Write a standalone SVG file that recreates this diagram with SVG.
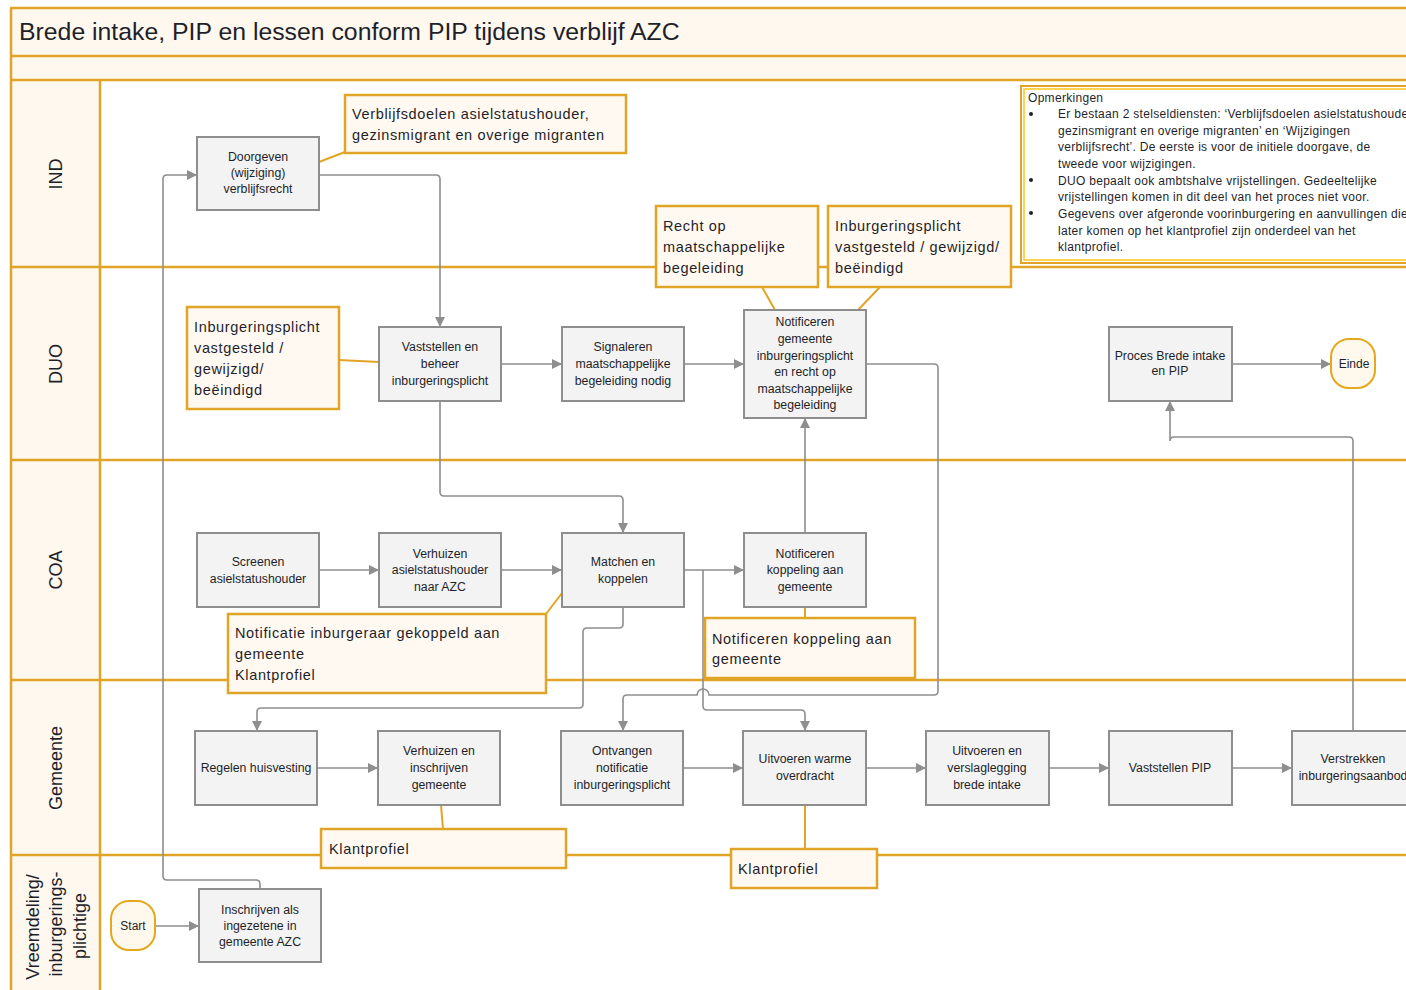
<svg xmlns="http://www.w3.org/2000/svg" width="1406" height="990" viewBox="0 0 1406 990">
<defs>
<style>
.band{fill:#FEF8EF;stroke:none}
.gl{stroke:#E0A526;stroke-width:2.5;fill:none}
.as{stroke:#E0A526;stroke-width:2;fill:none}
.node rect{fill:#F3F3F3;stroke:#8E8E8E;stroke-width:2}
.node text{font-family:"Liberation Sans",Arial,sans-serif;font-size:12.3px;fill:#1F1F2A;text-anchor:middle}
.term rect{fill:#FFF8EC;stroke:#E3A81C;stroke-width:2}
.term text{font-family:"Liberation Sans",Arial,sans-serif;font-size:12px;fill:#1F1F2A;text-anchor:middle}
.callout rect{fill:#FFF9F1;stroke:#E0A526;stroke-width:2.5}
.callout text{font-family:"Liberation Sans",Arial,sans-serif;font-size:14.5px;fill:#1F1F2A;letter-spacing:0.65px}
.lane text{font-family:"Liberation Sans",Arial,sans-serif;font-size:18px;fill:#1F1F2A;text-anchor:middle}
.conn path{fill:none;stroke:#8E8E8E;stroke-width:1.6}
.note text{font-family:"Liberation Sans",Arial,sans-serif;font-size:12px;letter-spacing:0.3px;fill:#1F1F2A}
</style>
<marker id="ah" markerUnits="userSpaceOnUse" markerWidth="12" markerHeight="12" refX="10" refY="5" orient="auto">
<path d="M0,0 L10,5 L0,10 z" fill="#8E8E8E"/>
</marker>
</defs>
<rect width="1406" height="990" fill="#FFFFFF"/>
<g id="frame">
<rect class="band" x="10" y="8" width="1396" height="72"/>
<rect class="band" x="10" y="80" width="90" height="910"/>
<line class="gl" x1="10" y1="8" x2="1406" y2="8"/>
<line class="gl" x1="10" y1="56" x2="1406" y2="56"/>
<line class="gl" x1="10" y1="80" x2="1406" y2="80"/>
<line class="gl" x1="10" y1="267" x2="1406" y2="267"/>
<line class="gl" x1="10" y1="460" x2="1406" y2="460"/>
<line class="gl" x1="10" y1="680" x2="1406" y2="680"/>
<line class="gl" x1="10" y1="855" x2="1406" y2="855"/>
<line class="gl" x1="11" y1="8" x2="11" y2="990"/>
<line class="gl" x1="100" y1="80" x2="100" y2="990"/>
<text x="19" y="40" font-family="'Liberation Sans',Arial,sans-serif" font-size="24.8" fill="#1F1F2A">Brede intake, PIP en lessen conform PIP tijdens verblijf AZC</text>
</g>
<g id="lanes" class="lane">
<text transform="translate(62,174) rotate(-90)">IND</text>
<text transform="translate(62,364) rotate(-90)">DUO</text>
<text transform="translate(62,570) rotate(-90)">COA</text>
<text transform="translate(62,768) rotate(-90)">Gemeente</text>
<text transform="translate(39,927) rotate(-90)">Vreemdeling/</text>
<text transform="translate(62,924) rotate(-90)">inburgerings-</text>
<text transform="translate(86,926) rotate(-90)">plichtige</text>
</g>
<g id="associations">
<line class="as" x1="345" y1="152" x2="319" y2="162"/>
<line class="as" x1="339" y1="360" x2="379" y2="362"/>
<line class="as" x1="762" y1="287" x2="775" y2="310"/>
<line class="as" x1="880" y1="287" x2="858" y2="310"/>
<line class="as" x1="546" y1="614" x2="562" y2="593"/>
<line class="as" x1="805" y1="607" x2="805" y2="618"/>
<line class="as" x1="441" y1="805" x2="443" y2="829"/>
<line class="as" x1="805" y1="805" x2="805" y2="849"/>
</g>
<g id="connectors" class="conn">
<path d="M260,889 V884 Q260,880 256,880 H167 Q163,880 163,876 V179 Q163,175 167,175 H197" marker-end="url(#ah)"/>
<path d="M319,175 H436 Q440,175 440,179 V327" marker-end="url(#ah)"/>
<path d="M501,364 H562" marker-end="url(#ah)"/>
<path d="M684,364 H744" marker-end="url(#ah)"/>
<path d="M440,401 V492 Q440,496 444,496 H619 Q623,496 623,500 V533" marker-end="url(#ah)"/>
<path d="M1232,364 H1331" marker-end="url(#ah)"/>
<path d="M319,570 H379" marker-end="url(#ah)"/>
<path d="M501,570 H562" marker-end="url(#ah)"/>
<path d="M684,570 H744" marker-end="url(#ah)"/>
<path d="M805,533 V418" marker-end="url(#ah)"/>
<path d="M866,364 H934 Q938,364 938,368 V691 Q938,695 934,695 H709 A6,6 0 0 0 697,695 H627 Q623,695 623,699 V731" marker-end="url(#ah)"/>
<path d="M703,570 V706 Q703,710 707,710 H801 Q805,710 805,714 V731" marker-end="url(#ah)"/>
<path d="M623,607 V624 Q623,628 619,628 H587 Q583,628 583,632 V704 Q583,708 579,708 H261 Q257,708 257,712 V731" marker-end="url(#ah)"/>
<path d="M317,768 H378" marker-end="url(#ah)"/>
<path d="M683,768 H743" marker-end="url(#ah)"/>
<path d="M866,768 H926" marker-end="url(#ah)"/>
<path d="M1049,768 H1109" marker-end="url(#ah)"/>
<path d="M1232,768 H1292" marker-end="url(#ah)"/>
<path d="M1353,731 V441 Q1353,437 1349,437 H1174 Q1170,437 1170,441 V401" marker-end="url(#ah)"/>
<path d="M155,926 H199" marker-end="url(#ah)"/>
</g>
<g id="c-verblijfsdoelen" class="callout">
<rect x="345" y="95" width="281" height="58"/>
<text x="352" y="119">Verblijfsdoelen asielstatushouder,</text>
<text x="352" y="140">gezinsmigrant en overige migranten</text>
</g>
<g id="c-recht" class="callout">
<rect x="656" y="206" width="162" height="81"/>
<text x="663" y="231">Recht op</text>
<text x="663" y="252">maatschappelijke</text>
<text x="663" y="273">begeleiding</text>
</g>
<g id="c-inburg-duo-top" class="callout">
<rect x="828" y="206" width="183" height="81"/>
<text x="835" y="231">Inburgeringsplicht</text>
<text x="835" y="252">vastgesteld / gewijzigd/</text>
<text x="835" y="273">beëindigd</text>
</g>
<g id="c-inburg-duo-left" class="callout">
<rect x="187" y="307" width="152" height="102"/>
<text x="194" y="332">Inburgeringsplicht</text>
<text x="194" y="353">vastgesteld /</text>
<text x="194" y="374">gewijzigd/</text>
<text x="194" y="395">beëindigd</text>
</g>
<g id="c-notificatie" class="callout">
<rect x="228" y="614" width="318" height="79"/>
<text x="235" y="638">Notificatie inburgeraar gekoppeld aan</text>
<text x="235" y="659">gemeente</text>
<text x="235" y="680">Klantprofiel</text>
</g>
<g id="c-notif-koppeling" class="callout">
<rect x="705" y="618" width="210" height="60"/>
<text x="712" y="644">Notificeren koppeling aan</text>
<text x="712" y="664">gemeente</text>
</g>
<g id="c-klantprofiel1" class="callout">
<rect x="321" y="829" width="245" height="39"/>
<text x="329" y="854">Klantprofiel</text>
</g>
<g id="c-klantprofiel2" class="callout">
<rect x="731" y="849" width="146" height="39"/>
<text x="738" y="874">Klantprofiel</text>
</g>
<g id="opmerkingen" class="note">
<rect x="1021" y="86" width="400" height="177" fill="#FFFFFF" stroke="#E0A526" stroke-width="2"/>
<rect x="1024" y="89" width="400" height="171" fill="none" stroke="#FFC61A" stroke-width="1.5"/>
<text x="1028" y="102">Opmerkingen</text>
<circle cx="1031" cy="114" r="2" fill="#1F1F2A"/>
<text x="1058" y="118">Er bestaan 2 stelseldiensten: ‘Verblijfsdoelen asielstatushouder,</text>
<text x="1058" y="135">gezinsmigrant en overige migranten’ en ‘Wijzigingen</text>
<text x="1058" y="151">verblijfsrecht’. De eerste is voor de initiele doorgave, de</text>
<text x="1058" y="168">tweede voor wijzigingen.</text>
<circle cx="1031" cy="180" r="2" fill="#1F1F2A"/>
<text x="1058" y="185">DUO bepaalt ook ambtshalve vrijstellingen. Gedeeltelijke</text>
<text x="1058" y="201">vrijstellingen komen in dit deel van het proces niet voor.</text>
<circle cx="1031" cy="213" r="2" fill="#1F1F2A"/>
<text x="1058" y="218">Gegevens over afgeronde voorinburgering en aanvullingen die</text>
<text x="1058" y="235">later komen op het klantprofiel zijn onderdeel van het</text>
<text x="1058" y="251">klantprofiel.</text>
</g>
<g id="n-doorgeven" class="node">
<rect x="197" y="137" width="122" height="73"/>
<text x="258" y="161">Doorgeven</text>
<text x="258" y="177">(wijziging)</text>
<text x="258" y="193">verblijfsrecht</text>
</g>
<g id="n-vaststellen" class="node">
<rect x="379" y="327" width="122" height="74"/>
<text x="440" y="351">Vaststellen en</text>
<text x="440" y="368">beheer</text>
<text x="440" y="385">inburgeringsplicht</text>
</g>
<g id="n-signaleren" class="node">
<rect x="562" y="327" width="122" height="74"/>
<text x="623" y="351">Signaleren</text>
<text x="623" y="368">maatschappelijke</text>
<text x="623" y="385">begeleiding nodig</text>
</g>
<g id="n-notif-gemeente" class="node">
<rect x="744" y="310" width="122" height="108"/>
<text x="805" y="326">Notificeren</text>
<text x="805" y="343">gemeente</text>
<text x="805" y="360">inburgeringsplicht</text>
<text x="805" y="376">en recht op</text>
<text x="805" y="393">maatschappelijke</text>
<text x="805" y="409">begeleiding</text>
</g>
<g id="n-proces" class="node">
<rect x="1109" y="327" width="123" height="74"/>
<text x="1170" y="360">Proces Brede intake</text>
<text x="1170" y="375">en PIP</text>
</g>
<g id="n-einde" class="term">
<rect x="1331" y="339" width="44" height="49" rx="18" ry="18"/>
<text x="1354" y="368">Einde</text>
</g>
<g id="n-screenen" class="node">
<rect x="197" y="533" width="122" height="74"/>
<text x="258" y="566">Screenen</text>
<text x="258" y="583">asielstatushouder</text>
</g>
<g id="n-verhuizen-azc" class="node">
<rect x="379" y="533" width="122" height="74"/>
<text x="440" y="558">Verhuizen</text>
<text x="440" y="574">asielstatushouder</text>
<text x="440" y="591">naar AZC</text>
</g>
<g id="n-matchen" class="node">
<rect x="562" y="533" width="122" height="74"/>
<text x="623" y="566">Matchen en</text>
<text x="623" y="583">koppelen</text>
</g>
<g id="n-notif-koppeling" class="node">
<rect x="744" y="533" width="122" height="74"/>
<text x="805" y="558">Notificeren</text>
<text x="805" y="574">koppeling aan</text>
<text x="805" y="591">gemeente</text>
</g>
<g id="n-regelen" class="node">
<rect x="195" y="731" width="122" height="74"/>
<text x="256" y="772">Regelen huisvesting</text>
</g>
<g id="n-verhuizen-gem" class="node">
<rect x="378" y="731" width="122" height="74"/>
<text x="439" y="755">Verhuizen en</text>
<text x="439" y="772">inschrijven</text>
<text x="439" y="789">gemeente</text>
</g>
<g id="n-ontvangen" class="node">
<rect x="561" y="731" width="122" height="74"/>
<text x="622" y="755">Ontvangen</text>
<text x="622" y="772">notificatie</text>
<text x="622" y="789">inburgeringsplicht</text>
</g>
<g id="n-warme" class="node">
<rect x="743" y="731" width="123" height="74"/>
<text x="805" y="763">Uitvoeren warme</text>
<text x="805" y="780">overdracht</text>
</g>
<g id="n-brede-intake" class="node">
<rect x="926" y="731" width="123" height="74"/>
<text x="987" y="755">Uitvoeren en</text>
<text x="987" y="772">verslaglegging</text>
<text x="987" y="789">brede intake</text>
</g>
<g id="n-pip" class="node">
<rect x="1109" y="731" width="123" height="74"/>
<text x="1170" y="772">Vaststellen PIP</text>
</g>
<g id="n-verstrekken" class="node">
<rect x="1292" y="731" width="122" height="74"/>
<text x="1353" y="763">Verstrekken</text>
<text x="1353" y="780">inburgeringsaanbod</text>
</g>
<g id="n-start" class="term">
<rect x="111" y="901" width="44" height="49" rx="18" ry="18"/>
<text x="133" y="930">Start</text>
</g>
<g id="n-inschrijven" class="node">
<rect x="199" y="889" width="122" height="73"/>
<text x="260" y="914">Inschrijven als</text>
<text x="260" y="930">ingezetene in</text>
<text x="260" y="946">gemeente AZC</text>
</g>
</svg>
